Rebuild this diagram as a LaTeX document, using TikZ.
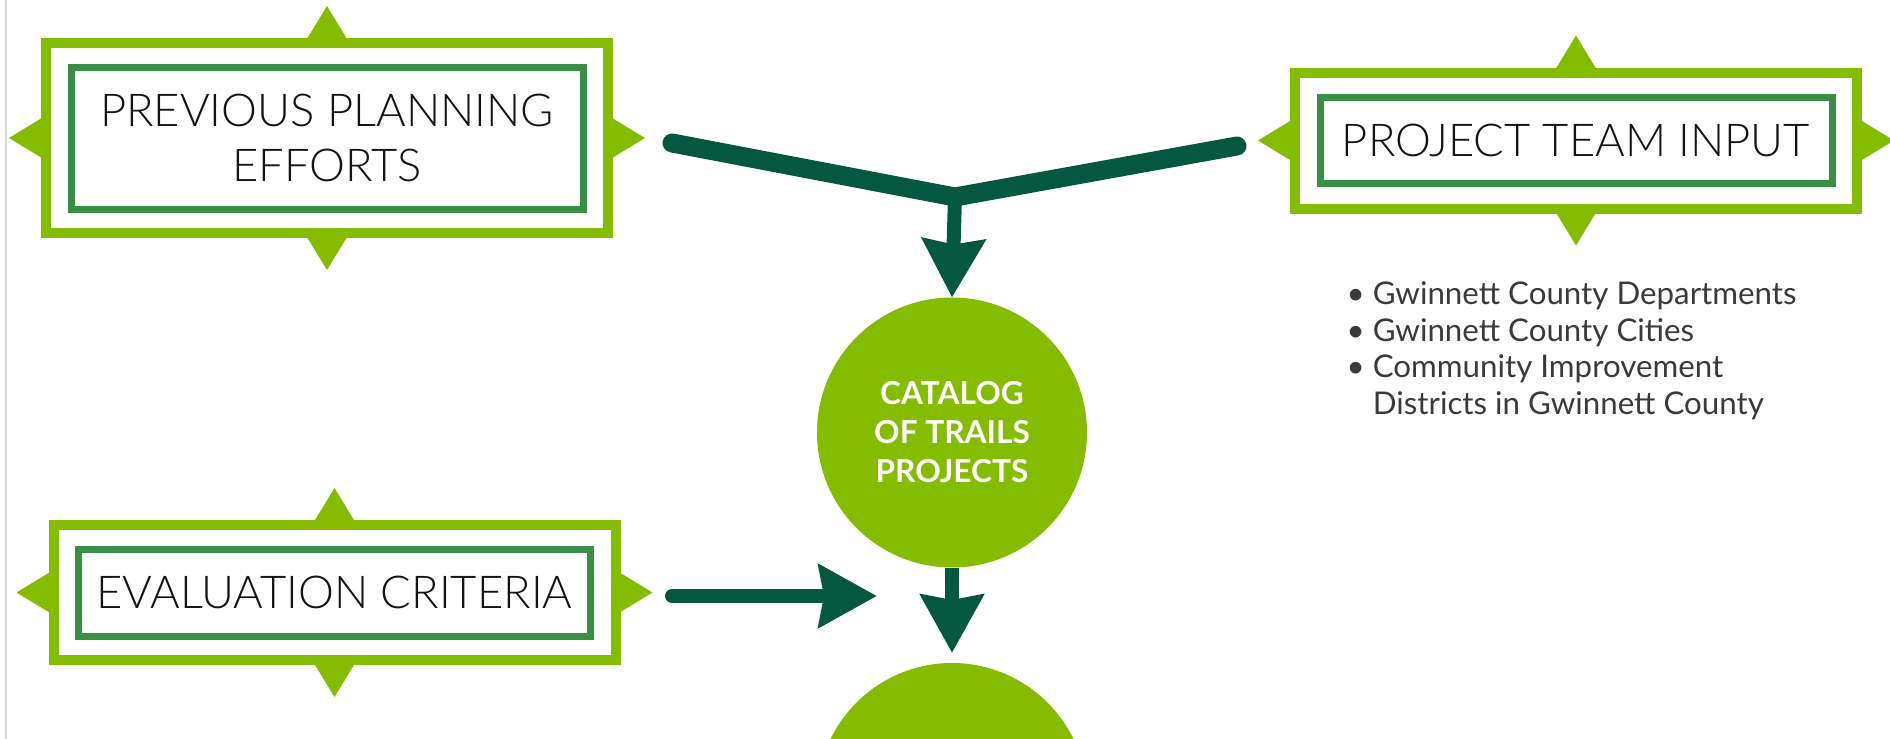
\documentclass[tikz,border=0pt]{standalone}
\usepackage{fontspec}
\setmainfont{Lato}[UprightFont=* Light, BoldFont=* Bold]
\newfontfamily\plainfont{Lato}
\usetikzlibrary{arrows.meta}

\definecolor{leaf}{HTML}{84BC00}
\definecolor{pine}{HTML}{3A8F46}
\definecolor{forest}{HTML}{04583F}
\definecolor{ink}{HTML}{141414}
\definecolor{slate}{HTML}{3A3A3A}

\begin{document}
\begin{tikzpicture}

\tikzstyle{outerbox}=[rectangle,draw=leaf,line width=0.1cm,outer sep=0pt,minimum width=5.62cm]
\tikzstyle{inbox}=[rectangle,draw=pine,line width=0.07cm,outer sep=0pt,minimum width=5.12cm,align=center,text=ink,font=\fontsize{12.9}{15.4}\selectfont]
\tikzstyle{hub}=[circle,fill=leaf,minimum size=2.7cm,inner sep=0pt,outer sep=0pt,align=center,text=white,font=\bfseries\fontsize{9}{11.1}\selectfont]
\tikzstyle{flow}=[draw=forest,line width=0.14cm,-{Stealth[length=0.58cm,width=0.62cm,inset=0.05cm]}]
\tikzstyle{feed}=[draw=forest,line width=0.19cm,line cap=round,line join=miter]

\useasboundingbox (0,0) rectangle (18.9,-7.39);
\draw[black!15,line width=0.02cm] (0.06,0) -- (0.06,-7.39);

\node[outerbox,minimum height=1.90cm] (PPEf) at (3.27,-1.38)  {};
\node[inbox,minimum height=1.42cm]    (PPE)  at (3.27,-1.38)  {PREVIOUS PLANNING\\EFFORTS};
\node[outerbox,minimum height=1.36cm] (PTIf) at (15.76,-1.405) {};
\node[inbox,minimum height=0.86cm]    (PTI)  at (15.76,-1.405) {PROJECT TEAM INPUT};
\node[outerbox,minimum height=1.35cm] (ECf)  at (3.345,-5.925) {};
\node[inbox,minimum height=0.87cm]    (EC)   at (3.345,-5.925) {EVALUATION CRITERIA};

% spikes on the frames
\foreach \n in {PPEf,PTIf,ECf}
  \foreach \a/\ang in {north/90,south/-90,east/0,west/180}
    \fill[leaf] ([shift={(\ang+90:0.225)}]\n.\a) -- ([shift={(\ang:0.37)}]\n.\a) -- ([shift={(\ang-90:0.225)}]\n.\a) -- cycle;

\node[anchor=north west,align=left,inner sep=0pt,text=slate,font=\plainfont\fontsize{8.9}{10.45}\selectfont] (PTIlist) at (13.46,-2.81)
  {\textbullet\ Gwinnett County Departments\\
   \textbullet\ Gwinnett County Cities\\
   \textbullet\ Community Improvement\\
   \phantom{\textbullet\ }Districts in Gwinnett County};

\node[hub] (cat) at (9.52,-4.325) {CATALOG\\OF TRAILS\\PROJECTS};
\node[hub] (nxt) at (9.52,-7.98)  {};

\coordinate (l) at (6.72,-1.43);
\coordinate (j) at (9.55,-1.97);
\coordinate (r) at (12.37,-1.46);
\coordinate (a) at (6.72,-5.96);
\coordinate (b) at (8.77,-5.96);

\draw[feed] (l) -- (j) -- (r);
\draw[flow] (j) -- (cat.north);
\draw[flow,line cap=round] (a) -- (b);
\draw[flow,shorten >=0.1cm] (cat.south) -- (nxt.north);

\end{tikzpicture}
\end{document}
